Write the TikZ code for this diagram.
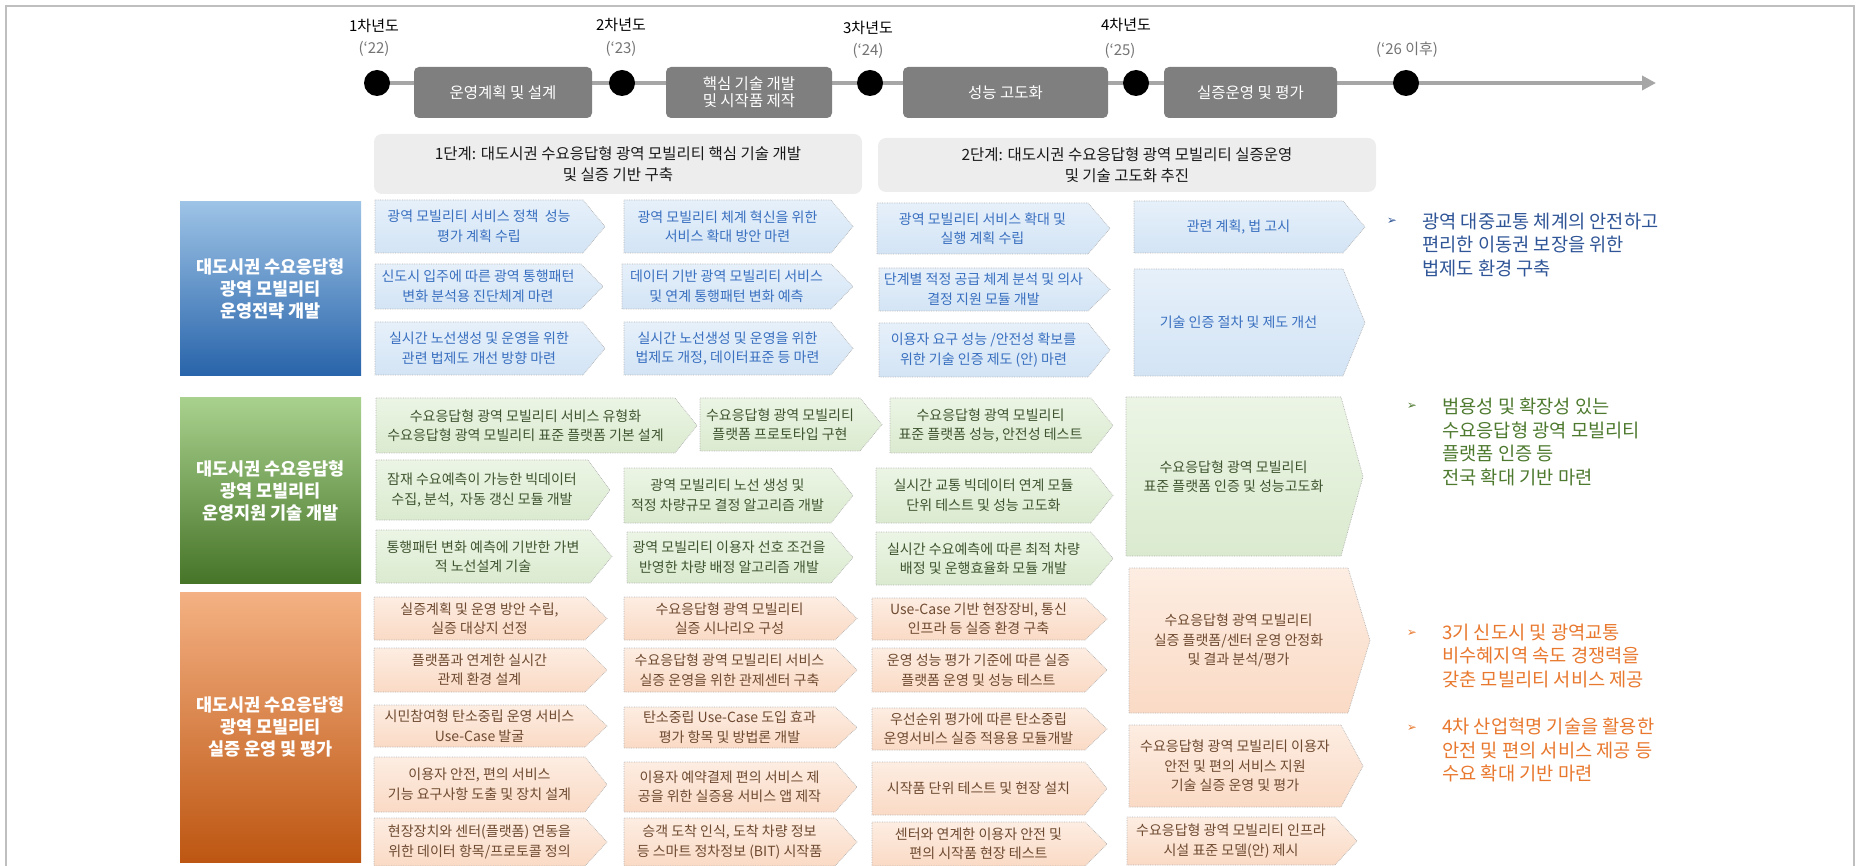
\documentclass[tikz,border=0pt]{standalone}
\usepackage{fontspec}
\setmainfont{Noto Sans CJK KR}
\newfontfamily\dvs{DejaVu Sans}
\usetikzlibrary{arrows.meta}
\definecolor{cbT}{HTML}{9DC3E6}\definecolor{cbB}{HTML}{2864AA}
\definecolor{cgT}{HTML}{A9D18E}\definecolor{cgB}{HTML}{467528}
\definecolor{coT}{HTML}{F4B183}\definecolor{coB}{HTML}{BD5612}
\definecolor{fbT}{HTML}{E6F0FA}\definecolor{fbB}{HTML}{D3E4F5}
\definecolor{fgT}{HTML}{ECF5E5}\definecolor{fgB}{HTML}{DAEACF}
\definecolor{foT}{HTML}{FDEDE2}\definecolor{foB}{HTML}{FADAC5}
\definecolor{tb}{HTML}{3A70C0}\definecolor{tg}{HTML}{3F5530}\definecolor{to}{HTML}{6E4A30}
\definecolor{rb}{HTML}{2F5597}\definecolor{rg}{HTML}{4E7A2F}\definecolor{ro}{HTML}{E8782E}
\definecolor{tlgray}{HTML}{A6A6A6}\definecolor{phgray}{HTML}{7F7F7F}\definecolor{stgray}{HTML}{EDEDED}
\newcommand\chev[7]{%
  \path[#6box] (#2,#3) -- ({#4-22},#3) -- (#4,{(#3+#5)/2}) -- ({#4-22},#5) -- (#2,#5) -- cycle;
  \node[#6txt] (#1) at ({(#2+#4-22)/2},{(#3+#5)/2}) {#7};}
\tikzset{
  every node/.style={inner sep=0pt, align=center},
  boxline/.style={draw=black!30, densely dotted, line width=0.7pt},
  bbox/.style={boxline, top color=fbT, bottom color=fbB},
  gbox/.style={boxline, top color=fgT, bottom color=fgB},
  obox/.style={boxline, top color=foT, bottom color=foB},
  btxt/.style={text=tb, font=\fontsize{14}{19.5}\selectfont},
  gtxt/.style={text=tg, font=\fontsize{14}{19.5}\selectfont},
  otxt/.style={text=to, font=\fontsize{14}{19.5}\selectfont},
  catbox/.style={minimum width=181pt, text=white, font=\bfseries\fontsize{17.5}{22}\selectfont},
  phase/.style={fill=phgray, rounded corners=5pt, text=white, minimum height=51pt, font=\fontsize{15.5}{19}\selectfont},
  stage/.style={fill=stgray, rounded corners=8pt, text=black!90, font=\fontsize{15.5}{21}\selectfont},
  yr/.style={font=\fontsize{15}{16}\selectfont, text=black},
  yy/.style={font=\fontsize{15}{16}\selectfont, text=black!55},
  dot/.style={circle, fill=black, minimum size=26pt},
  rtxt/.style={anchor=west, align=left, font=\fontsize{18.7}{23.8}\selectfont},
  bul/.style={font=\dvs\fontsize{12}{12}\selectfont},
}
\begin{document}
\begin{tikzpicture}[x=1pt,y=-1pt]
\useasboundingbox (0,0) rectangle (1856,866);
% frame
\draw[black!25, line width=2pt] (6,880) -- (6,6) -- (1854,6) -- (1854,880);
% timeline
\coordinate (t0) at (377,83);
\coordinate (tend) at (1656,83);
\draw[tlgray, line width=4pt, -{Triangle[length=14pt,width=14pt]}] (t0) -- (tend);
\node[phase, minimum width=178pt] (p1) at (503,92.5) {운영계획 및 설계};
\node[phase, minimum width=166pt] (p2) at (749,92.5) {핵심 기술 개발\\[-2pt]및 시작품 제작};
\node[phase, minimum width=205pt] (p3) at (1005.5,92.5) {성능 고도화};
\node[phase, minimum width=173pt] (p4) at (1250.5,92.5) {실증운영 및 평가};
\node[dot] (d1) at (377,83) {};
\node[dot] (d2) at (622,83) {};
\node[dot] (d3) at (870,83) {};
\node[dot] (d4) at (1136,83) {};
\node[dot] (d5) at (1406,83) {};
\node[yr] (y1) at (374,26) {1차년도};
\node[yy] (q1) at (374,49) {(‘22)};
\node[yr] (y2) at (621,25) {2차년도};
\node[yy] (q2) at (621,49) {(‘23)};
\node[yr] (y3) at (868,28) {3차년도};
\node[yy] (q3) at (868,51) {(‘24)};
\node[yr] (y4) at (1126,25) {4차년도};
\node[yy] (q4) at (1120,51) {(‘25)};
\node[yy] (q5) at (1407,50) {(‘26 이후)};
% stages
\node[stage, minimum width=488pt, minimum height=60pt] (s1) at (618,164) {1단계: 대도시권 수요응답형 광역 모빌리티 핵심 기술 개발\\및 실증 기반 구축};
\node[stage, minimum width=498pt, minimum height=54pt] (s2) at (1127,165) {2단계: 대도시권 수요응답형 광역 모빌리티 실증운영\\및 기술 고도화 추진};
% category boxes
\node[catbox, minimum height=174pt, top color=cbT, bottom color=cbB] (c1) at (270.5,289) {대도시권 수요응답형\\광역 모빌리티\\운영전략 개발};
\node[catbox, minimum height=185pt, top color=cgT, bottom color=cgB] (c2) at (270.5,490.5) {대도시권 수요응답형\\광역 모빌리티\\운영지원 기술 개발};
\node[catbox, minimum height=270pt, top color=coT, bottom color=coB] (c3) at (270.5,727) {대도시권 수요응답형\\광역 모빌리티\\실증 운영 및 평가};
% blue boxes
\chev{b11}{375}{200}{605}{253}{b}{광역 모빌리티 서비스 정책 \ 성능\\평가 계획 수립}
\chev{b12}{375}{264}{603}{309}{b}{신도시 입주에 따른 광역 통행패턴\\변화 분석용 진단체계 마련}
\chev{b13}{375}{322}{605}{375}{b}{실시간 노선생성 및 운영을 위한\\관련 법제도 개선 방향 마련}
\chev{b21}{624}{200}{853}{253}{b}{광역 모빌리티 체계 혁신을 위한\\서비스 확대 방안 마련}
\chev{b22}{622}{264}{853}{309}{b}{데이터 기반 광역 모빌리티 서비스\\및 연계 통행패턴 변화 예측}
\chev{b23}{624}{322}{853}{375}{b}{실시간 노선생성 및 운영을 위한\\법제도 개정, 데이터표준 등 마련}
\chev{b31}{877}{203}{1110}{254}{b}{광역 모빌리티 서비스 확대 및\\실행 계획 수립}
\chev{b32}{879}{268}{1110}{311}{b}{단계별 적정 공급 체계 분석 및 의사\\결정 지원 모듈 개발}
\chev{b33}{879}{323}{1110}{377}{b}{이용자 요구 성능 /안전성 확보를\\위한 기술 인증 제도 (안) 마련}
\chev{b41}{1134}{201}{1365}{253}{b}{관련 계획, 법 고시}
\chev{b42}{1134}{269}{1365}{376}{b}{기술 인증 절차 및 제도 개선}
% green boxes
\chev{g11}{376}{398}{697}{453}{g}{수요응답형 광역 모빌리티 서비스 유형화\\수요응답형 광역 모빌리티 표준 플랫폼 기본 설계}
\chev{g12}{700}{398}{882}{451}{g}{수요응답형 광역 모빌리티\\플랫폼 프로토타입 구현}
\chev{g13}{890}{398}{1113}{453}{g}{수요응답형 광역 모빌리티\\표준 플랫폼 성능, 안전성 테스트}
\chev{g14}{1126}{397}{1363}{556}{g}{수요응답형 광역 모빌리티\\표준 플랫폼 인증 및 성능고도화}
\chev{g21}{376}{460}{610}{520}{g}{잠재 수요예측이 가능한 빅데이터\\수집, 분석, \ 자동 갱신 모듈 개발}
\chev{g22}{624}{468}{853}{523}{g}{광역 모빌리티 노선 생성 및\\적정 차량규모 결정 알고리즘 개발}
\chev{g23}{876}{468}{1113}{523}{g}{실시간 교통 빅데이터 연계 모듈\\단위 테스트 및 성능 고도화}
\chev{g31}{376}{530}{612}{583}{g}{통행패턴 변화 예측에 기반한 가변\\적 노선설계 기술}
\chev{g32}{627}{532}{853}{583}{g}{광역 모빌리티 이용자 선호 조건을\\반영한 차량 배정 알고리즘 개발}
\chev{g33}{876}{532}{1113}{585}{g}{실시간 수요예측에 따른 최적 차량\\배정 및 운행효율화 모듈 개발}
% orange boxes
\chev{o11}{374}{597}{607}{640}{o}{실증계획 및 운영 방안 수립,\\실증 대상지 선정}
\chev{o12}{374}{648}{607}{692}{o}{플랫폼과 연계한 실시간\\관제 환경 설계}
\chev{o13}{374}{705}{607}{747}{o}{시민참여형 탄소중립 운영 서비스\\Use-Case 발굴}
\chev{o14}{374}{757}{607}{812}{o}{이용자 안전, 편의 서비스\\기능 요구사항 도출 및 장치 설계}
\chev{o15}{374}{818}{607}{866}{o}{현장장치와 센터(플랫폼) 연동을\\위한 데이터 항목/프로토콜 정의}
\chev{o21}{624}{597}{857}{640}{o}{수요응답형 광역 모빌리티\\실증 시나리오 구성}
\chev{o22}{624}{648}{857}{692}{o}{수요응답형 광역 모빌리티 서비스\\실증 운영을 위한 관제센터 구축}
\chev{o23}{624}{707}{857}{748}{o}{탄소중립 Use-Case 도입 효과\\평가 항목 및 방법론 개발}
\chev{o24}{624}{762}{857}{812}{o}{이용자 예약결제 편의 서비스 제\\공을 위한 실증용 서비스 앱 제작}
\chev{o25}{624}{818}{857}{866}{o}{승객 도착 인식, 도착 차량 정보\\등 스마트 정차정보 (BIT) 시작품}
\chev{o31}{872}{598}{1107}{640}{o}{Use-Case 기반 현장장비, 통신\\인프라 등 실증 환경 구축}
\chev{o32}{872}{648}{1107}{692}{o}{운영 성능 평가 기준에 따른 실증\\플랫폼 운영 및 성능 테스트}
\chev{o33}{872}{708}{1107}{750}{o}{우선순위 평가에 따른 탄소중립\\운영서비스 실증 적용용 모듈개발}
\chev{o34}{872}{762}{1107}{815}{o}{시작품 단위 테스트 및 현장 설치}
\chev{o35}{872}{822}{1107}{866}{o}{센터와 연계한 이용자 안전 및\\편의 시작품 현장 테스트}
\chev{o41}{1129}{568}{1370}{713}{o}{수요응답형 광역 모빌리티\\실증 플랫폼/센터 운영 안정화\\및 결과 분석/평가}
\chev{o42}{1129}{725}{1363}{807}{o}{수요응답형 광역 모빌리티 이용자\\안전 및 편의 서비스 지원\\기술 실증 운영 및 평가}
\chev{o43}{1127}{817}{1357}{865}{o}{수요응답형 광역 모빌리티 인프라\\시설 표준 모델(안) 제시}
% right texts
\node[bul, text=rb] (rb1) at (1392,221) {➢};
\node[rtxt, text=rb] (rbt) at (1422,245) {광역 대중교통 체계의 안전하고\\편리한 이동권 보장을 위한\\법제도 환경 구축};
\node[bul, text=rg] (rg1) at (1412,406) {➢};
\node[rtxt, text=rg] (rgt) at (1442,442) {범용성 및 확장성 있는\\수요응답형 광역 모빌리티\\플랫폼 인증 등\\전국 확대 기반 마련};
\node[bul, text=ro] (ro1) at (1412,633) {➢};
\node[rtxt, text=ro] (rot) at (1442,656) {3기 신도시 및 광역교통\\비수혜지역 속도 경쟁력을\\갖춘 모빌리티 서비스 제공};
\node[bul, text=ro] (ro2) at (1412,728) {➢};
\node[rtxt, text=ro] (rot2) at (1442,750) {4차 산업혁명 기술을 활용한\\안전 및 편의 서비스 제공 등\\수요 확대 기반 마련};
\end{tikzpicture}
\end{document}
